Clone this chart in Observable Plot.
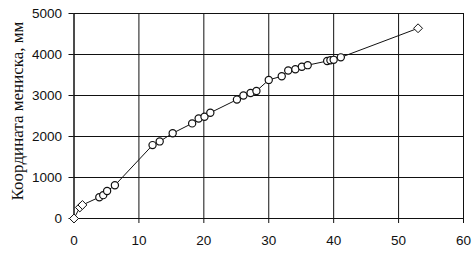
<!DOCTYPE html>
<html><head><meta charset="utf-8">
<script src="https://cdn.jsdelivr.net/npm/d3@7"></script>
<script src="https://cdn.jsdelivr.net/npm/@observablehq/plot@0.6"></script>
<style>body{margin:0;background:#fff}</style>
</head><body><div id="chart"></div>
<script>
const xs = [0, 0.9, 1.3, 3.9, 4.5, 5.1, 6.3, 12.1, 13.2, 15.2, 18.2, 19.2, 20.1, 21, 25.1, 26.1, 27.2, 28.1, 30, 32, 33, 34.1, 35.1, 36, 39, 39.5, 40, 41.1, 53];
const ys = [0, 270, 330, 520, 570, 670, 810, 1790, 1880, 2080, 2320, 2440, 2480, 2580, 2900, 3000, 3060, 3110, 3380, 3470, 3610, 3640, 3700, 3740, 3840, 3860, 3870, 3930, 4640];
const kinds = ["d","d","d","c","c","c","c","c","c","c","c","c","c","c","c","c","c","c","c","c","c","c","c","c","c","c","c","c","d"];
const xTicks = [0, 10, 20, 30, 40, 50, 60];
const yTicks = [0, 1000, 2000, 3000, 4000, 5000];
const yLabel = "Координата мениска, мм";

const data = xs.map((x, i) => ({x, y: ys[i], k: kinds[i]}));

const serif = "'Liberation Serif', 'Times New Roman', serif";
const sans = "'Liberation Sans', Arial, sans-serif";

const chart = Plot.plot({
  width: 473, height: 257,
  marginLeft: 73.5, marginRight: 10, marginTop: 13, marginBottom: 39,
  x: {domain: [0, 60]},
  y: {domain: [0, 5000]},
  marks: [
    Plot.ruleX(xTicks, {stroke: "#111", strokeWidth: 1}),
    Plot.ruleY(yTicks, {stroke: "#111", strokeWidth: 1}),
    Plot.frame({stroke: "#111"}),
    Plot.axisX(xTicks, {tickSize: 5, tickPadding: 12, fontSize: 13.5, fontFamily: sans, label: null, stroke: "#111", tickFormat: d => String(d)}),
    Plot.axisY(yTicks, {tickSize: 5, tickPadding: 7, fontSize: 13.5, fontFamily: sans, label: yLabel, labelAnchor: "center", labelArrow: "none", labelOffset: 63, stroke: "#111", tickFormat: d => String(d)}),
    Plot.line(data, {x: "x", y: "y", stroke: "#111", strokeWidth: 1}),
    Plot.dot(data.filter(d => d.k === "c"), {x: "x", y: "y", symbol: "circle", r: 3.6, fill: "white", stroke: "#111", strokeWidth: 1.2}),
    Plot.dot(data.filter(d => d.k === "d"), {x: "x", y: "y", symbol: "diamond2", r: 4, fill: "white", stroke: "#111", strokeWidth: 1})
  ]
});
const svg = d3.select(chart);
svg.selectAll("text").attr("fill", "#111");
svg.selectAll("g[aria-label^='y-axis tick'] text").style("font-family", sans);
svg.selectAll("g[aria-label='y-axis label'] text").style("font-family", serif).style("font-size", "17px")
  .each(function() {
    const t = this.getAttribute("transform") || "";
    this.setAttribute("transform", "translate(0,-5) " + t);
  });
svg.selectAll("g[aria-label^='x-axis'] text").style("font-family", sans);
document.getElementById("chart").appendChild(chart);
</script>
</body></html>
